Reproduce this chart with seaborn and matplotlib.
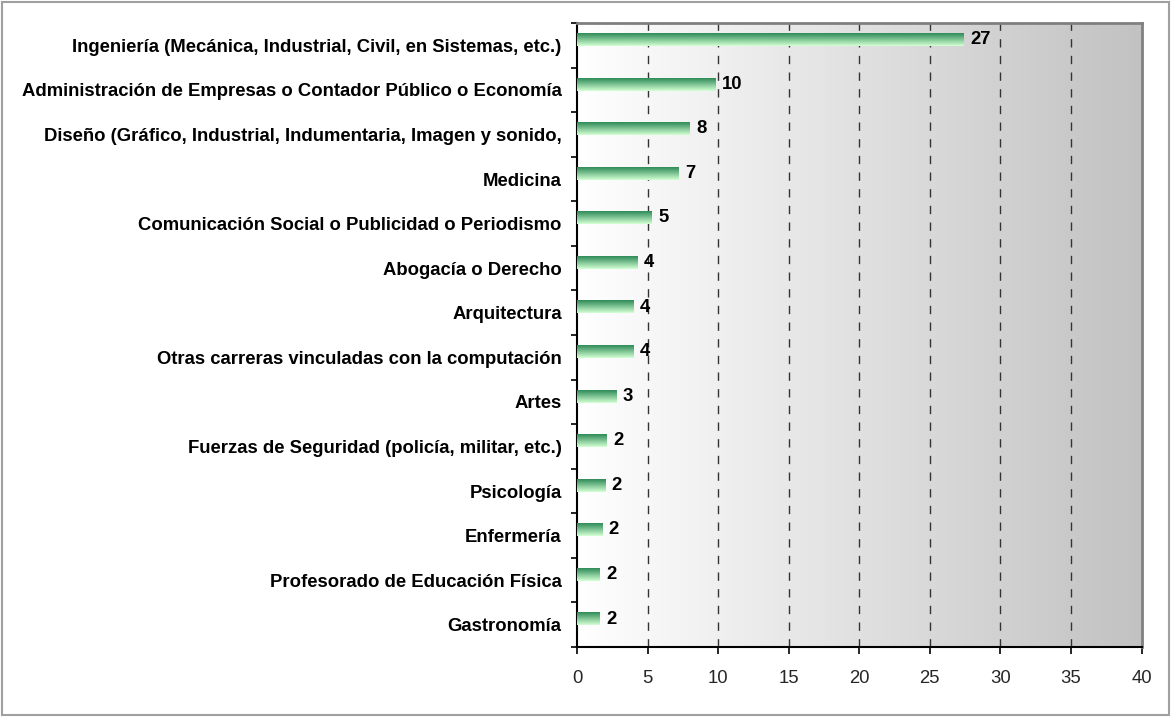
import matplotlib
matplotlib.use("Agg")
import matplotlib.pyplot as plt
import matplotlib.patches as mpatches
import numpy as np
import pandas as pd
import seaborn as sns

categories = [
    "Ingeniería (Mecánica, Industrial, Civil, en Sistemas, etc.)",
    "Administración de Empresas o Contador Público o Economía",
    "Diseño (Gráfico, Industrial, Indumentaria, Imagen y sonido,",
    "Medicina",
    "Comunicación Social o Publicidad o Periodismo",
    "Abogacía o Derecho",
    "Arquitectura",
    "Otras carreras vinculadas con la computación",
    "Artes",
    "Fuerzas de Seguridad (policía, militar, etc.)",
    "Psicología",
    "Enfermería",
    "Profesorado de Educación Física",
    "Gastronomía",
]
values = [27.4, 9.8, 8.0, 7.2, 5.3, 4.3, 4.0, 4.0, 2.8, 2.1, 2.0, 1.8, 1.6, 1.6]
value_labels = ["27", "10", "8", "7", "5", "4", "4", "4", "3", "2", "2", "2", "2", "2"]
x_ticks = [0, 5, 10, 15, 20, 25, 30, 35, 40]

sns.set_theme(style="white")
plt.rcParams["font.family"] = ["Liberation Sans", "DejaVu Sans"]
fs = 13.3
bar_shift = 0.125  # bars sit slightly above the category centre, as in the original

df = pd.DataFrame({"carrera": categories, "valor": values})

fig = plt.figure(figsize=(11.71, 7.17), dpi=100)
ax = fig.add_axes([577 / 1171, 1 - 647 / 717, (1141.5 - 577) / 1171, (647 - 23) / 717])

sns.barplot(data=df, x="valor", y="carrera", orient="h", width=0.28, ax=ax,
            color="#5fb97a", zorder=3)

# background gradient white -> gray
bg = np.linspace(1.0, 0.76, 256).reshape(1, -1)
bg = np.dstack([bg, bg, bg])
ax.imshow(bg, extent=[0, 40, 13.5, -0.5], aspect="auto", zorder=0, interpolation="bicubic")

# vertical green gradient inside each bar
dark = np.array([0x2e, 0x8b, 0x57]) / 255
light = np.array([0xd4, 0xff, 0xd4]) / 255
t = np.linspace(0, 1, 64).reshape(-1, 1, 1)
grad = dark * (1 - t) + light * t
for p in ax.patches:
    x0, y0 = p.get_x(), p.get_y() - bar_shift
    w, h = p.get_width(), p.get_height()
    p.set_facecolor("none")
    p.set_edgecolor("none")
    ax.imshow(grad, extent=[x0, x0 + w, y0 + h, y0], aspect="auto", zorder=3,
              interpolation="bilinear")

for i, (v, lab) in enumerate(zip(values, value_labels)):
    ax.text(v + 0.45, i - bar_shift, lab, va="center", ha="left", fontsize=fs,
            fontweight="bold", color="black", zorder=4)

ax.set_xlim(0, 40)
ax.set_ylim(13.5, -0.5)
ax.set_xticks(x_ticks)
ax.set_xticklabels([str(x) for x in x_ticks], fontsize=fs)
for x in x_ticks[1:-1]:
    ax.axvline(x, color="#333333", lw=1, ls=(0, (6, 6)), zorder=2)

ax.set_yticks(range(len(categories)))
ax.set_yticklabels(categories, fontsize=fs, fontweight="bold")
ax.set_yticks(np.arange(-0.5, len(categories)), minor=True)
ax.tick_params(axis="y", which="major", length=0, pad=11, colors="black")
ax.tick_params(axis="y", which="minor", length=4, width=1.2, direction="out", color="black", left=True)
ax.tick_params(axis="x", which="major", length=5, width=1.2, direction="out", color="black",
               bottom=True, pad=11.5)
ax.set_xlabel("")
ax.set_ylabel("")

for side in ["left", "bottom"]:
    ax.spines[side].set_color("black")
    ax.spines[side].set_linewidth(1.5)
for side in ["top", "right"]:
    ax.spines[side].set_color("#808080")
    ax.spines[side].set_linewidth(2)
    ax.spines[side].set_visible(True)

fig.patches.append(mpatches.Rectangle((2 / 1171, 2 / 717), 1 - 4 / 1171, 1 - 4 / 717,
                                      transform=fig.transFigure, fill=False,
                                      edgecolor="#a0a0a0", lw=1.5))

fig.savefig("out.png", dpi=100, facecolor="white")
